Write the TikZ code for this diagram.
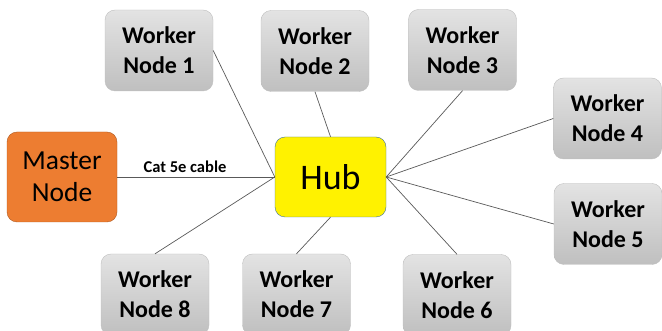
\documentclass[tikz,border=0pt]{standalone}
\usepackage{fontspec}
\setmainfont{Carlito}
\definecolor{linkgray}{HTML}{595959}
\definecolor{boxedge}{HTML}{BFBFBF}
\definecolor{masterfill}{HTML}{ED7D31}
\definecolor{masteredge}{HTML}{AE5A21}
\definecolor{hubedge}{HTML}{41719C}
\tikzset{
  worker/.style={rounded corners=10pt, draw=boxedge, top color=gray!22, bottom color=gray!50,
    minimum width=108pt, minimum height=81pt, align=center, inner sep=0pt,
    font=\fontsize{24}{30}\selectfont\bfseries},
  master/.style={rounded corners=10pt, draw=masteredge, fill=masterfill,
    minimum width=110pt, minimum height=90pt, align=center, inner sep=0pt,
    font=\fontsize{27.5}{32}\selectfont},
  hub/.style={rounded corners=10pt, draw=hubedge, fill=yellow,
    minimum width=111pt, minimum height=80pt, inner sep=0pt,
    font=\fontsize{36}{40}\selectfont},
  link/.style={draw=linkgray, line width=0.7pt}
}
\begin{document}
\begin{tikzpicture}[x=1pt,y=-1pt]
\useasboundingbox (0,0) rectangle (662,331);
% stations around the hub
\node[worker] (w1) at (159,50.5) {Worker\\Node 1};
\node[worker] (w2) at (315,51) {Worker\\Node 2};
\node[worker] (w3) at (462.5,50) {Worker\\Node 3};
\node[worker] (w4) at (607.5,118.5) {Worker\\Node 4};
\node[worker] (w5) at (608,224) {Worker\\Node 5};
\node[worker] (w6) at (457,295) {Worker\\Node 6};
\node[worker] (w7) at (296.5,294.5) {Worker\\Node 7};
\node[worker] (w8) at (155,294.5) {Worker\\Node 8};
\node[master] (m) at (62,177) {Master\\Node};
\node[hub] (hub) at (330.5,177) {Hub};
% cabling
\draw[link] (m.east) -- node[pos=0.43, above=1pt, font=\fontsize{16.5}{18}\selectfont\bfseries] {Cat 5e cable} (hub.west);
\draw[link] (w1.east) -- (hub.west);
\draw[link] (w8.north) -- (hub.west);
\draw[link] (w2.south) -- (hub.north);
\draw[link] (w7.north) -- (hub.south);
\draw[link] (w3.south) -- (hub.east);
\draw[link] (w4.west) -- (hub.east);
\draw[link] (w5.west) -- (hub.east);
\draw[link] (w6.north) -- (hub.east);
\end{tikzpicture}
\end{document}
